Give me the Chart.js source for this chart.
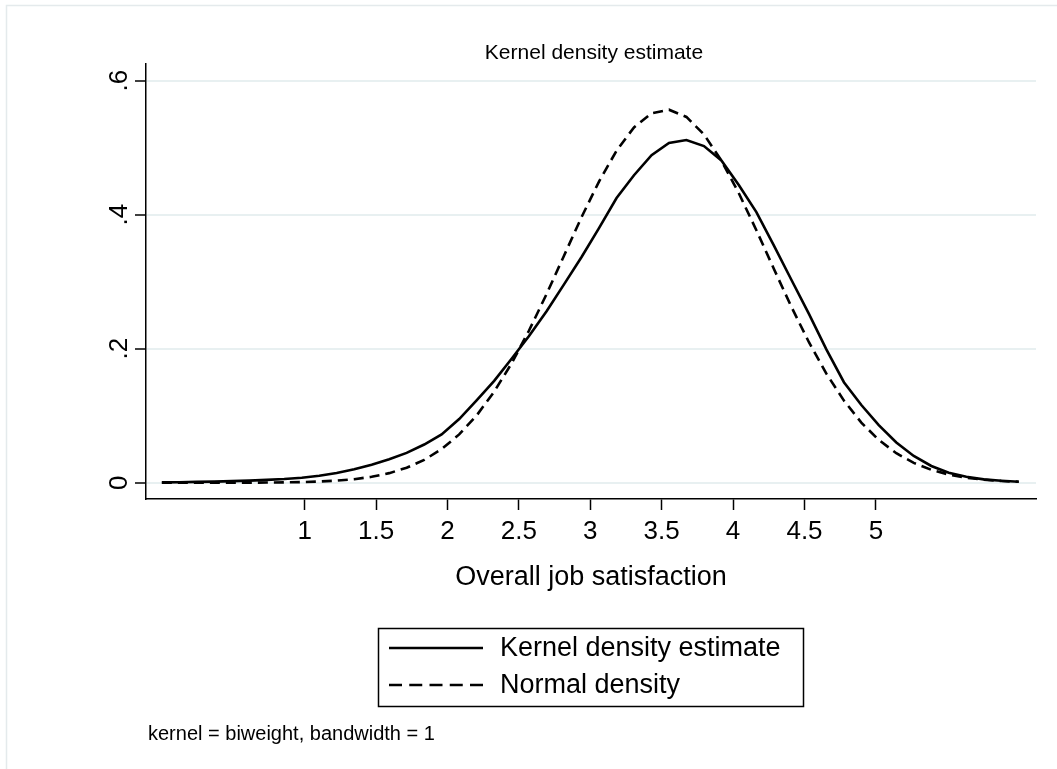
<!DOCTYPE html>
<html>
<head>
<meta charset="utf-8">
<title>Kernel density estimate</title>
<script src="https://cdn.jsdelivr.net/npm/chart.js@4.4.1/dist/chart.umd.min.js"></script>
<style>
    html, body { margin: 0; padding: 0; background: #ffffff; }
    #graficoContainer { width: 1057px; height: 769px; }
</style>
</head>
<body>
<div id="graficoContainer"><canvas id="graficoDensidade" width="1057" height="769"></canvas></div>
<script>
// Pontos de avaliação (eixo x) e valores
const satisfacao = [0.000, 0.122, 0.245, 0.367, 0.490, 0.612, 0.735, 0.857, 0.980, 1.102,
    1.224, 1.347, 1.469, 1.592, 1.714, 1.837, 1.959, 2.082, 2.204, 2.327,
    2.449, 2.571, 2.694, 2.816, 2.939, 3.061, 3.184, 3.306, 3.429, 3.551,
    3.673, 3.796, 3.918, 4.041, 4.163, 4.286, 4.408, 4.531, 4.653, 4.776,
    4.898, 5.020, 5.143, 5.265, 5.388, 5.510, 5.633, 5.755, 5.878, 6.000];

const densidadeKernel = [0.0005, 0.0008, 0.0012, 0.0017, 0.0024, 0.0032, 0.0042, 0.0055, 0.0075, 0.0105,
    0.0145, 0.0200, 0.0270, 0.0350, 0.0445, 0.0570, 0.0720, 0.0950, 0.1230, 0.1520,
    0.1850, 0.2190, 0.2560, 0.2960, 0.3370, 0.3800, 0.4250, 0.4590, 0.4890, 0.5070,
    0.5115, 0.5025, 0.4810, 0.4440, 0.4040, 0.3540, 0.3030, 0.2520, 0.1990, 0.1500,
    0.1160, 0.0860, 0.0600, 0.0400, 0.0250, 0.0150, 0.0090, 0.0050, 0.0030, 0.0015];

const densidadeNormal = [0.0000, 0.0000, 0.0000, 0.0000, 0.0001, 0.0001, 0.0003, 0.0005, 0.0010, 0.0018,
    0.0031, 0.0053, 0.0088, 0.0143, 0.0223, 0.0340, 0.0502, 0.0721, 0.1003, 0.1359,
    0.1781, 0.2272, 0.2816, 0.3389, 0.3965, 0.4495, 0.4957, 0.5304, 0.5515, 0.5568,
    0.5460, 0.5199, 0.4809, 0.4317, 0.3769, 0.3190, 0.2627, 0.2097, 0.1629, 0.1226,
    0.0897, 0.0639, 0.0440, 0.0296, 0.0192, 0.0122, 0.0075, 0.0044, 0.0026, 0.0015];

const xTicks = [1, 1.5, 2, 2.5, 3, 3.5, 4, 4.5, 5];
const yTicks = [0, 0.2, 0.4, 0.6];
const yTickLabels = ['0', '.2', '.4', '.6'];
const nomesSeries = ['Kernel density estimate', 'Normal density'];

const fonte = "'Liberation Sans', Arial, Helvetica, sans-serif";

// Junta x e y no formato que o Chart.js espera
function montarPontos(valores) {
    return satisfacao.map((x, i) => ({ x: x, y: valores[i] }));
}

// Plugin para fundo, títulos, rótulos do eixo y, legenda e nota
const decoracao = {
    id: 'decoracao',
    beforeDraw(chart) {
        const ctx = chart.ctx;
        ctx.save();
        ctx.fillStyle = '#ffffff';
        ctx.fillRect(0, 0, chart.width, chart.height);
        ctx.strokeStyle = '#e4eaec';
        ctx.lineWidth = 1.5;
        ctx.strokeRect(6.5, 5.5, chart.width + 40, chart.height + 40);
        ctx.restore();
    },
    afterDraw(chart) {
        const ctx = chart.ctx;
        const area = chart.chartArea;
        const escalaY = chart.scales.y;
        const centro = (area.left + area.right) / 2;

        ctx.save();
        ctx.fillStyle = '#000';

        // Título
        ctx.font = '21px ' + fonte;
        ctx.textAlign = 'center';
        ctx.textBaseline = 'alphabetic';
        ctx.fillText('Kernel density estimate', centro + 3, 59);

        // Rótulos do eixo y (girados)
        ctx.font = '26px ' + fonte;
        yTicks.forEach((v, i) => {
            const py = escalaY.getPixelForValue(v);
            ctx.save();
            ctx.translate(escalaY.right - 19, py);
            ctx.rotate(-Math.PI / 2);
            ctx.textAlign = 'center';
            ctx.fillText(yTickLabels[i], 0, 0);
            ctx.restore();
        });

        // Título do eixo x
        ctx.font = '27px ' + fonte;
        ctx.textAlign = 'center';
        ctx.fillText('Overall job satisfaction', centro, 585);

        // Legenda com moldura
        ctx.strokeStyle = '#000';
        ctx.lineWidth = 1.5;
        ctx.strokeRect(378.5, 628.5, 425, 78);
        const linhasY = [648, 685];
        const tracos = [[], [13, 7.25]];
        ctx.textAlign = 'left';
        ctx.textBaseline = 'middle';
        nomesSeries.forEach((nome, i) => {
            ctx.beginPath();
            ctx.lineWidth = 2.6;
            ctx.setLineDash(tracos[i]);
            ctx.moveTo(389, linhasY[i]);
            ctx.lineTo(483, linhasY[i]);
            ctx.stroke();
            ctx.setLineDash([]);
            ctx.fillText(nome, 500, linhasY[i] + 1);
        });

        // Nota
        ctx.font = '20px ' + fonte;
        ctx.textBaseline = 'alphabetic';
        ctx.fillText('kernel = biweight, bandwidth = 1', 148, 740);
        ctx.restore();
    }
};

function criarGrafico() {
    const ctx = document.getElementById('graficoDensidade').getContext('2d');
    new Chart(ctx, {
        type: 'line',
        data: {
            datasets: [{
                label: nomesSeries[0],
                data: montarPontos(densidadeKernel),
                borderColor: '#000',
                borderWidth: 2.6,
                pointRadius: 0,
                tension: 0,
                fill: false
            }, {
                label: nomesSeries[1],
                data: montarPontos(densidadeNormal),
                borderColor: '#000',
                borderWidth: 2.6,
                borderDash: [10, 6],
                pointRadius: 0,
                tension: 0,
                fill: false
            }]
        },
        options: {
            responsive: false,
            animation: false,
            layout: { padding: { left: 0, right: 21, top: 64, bottom: 0 } },
            plugins: {
                legend: { display: false },
                tooltip: { enabled: false },
                title: { display: false }
            },
            scales: {
                x: {
                    type: 'linear',
                    min: -0.111,
                    max: 6.121,
                    afterBuildTicks: (escala) => { escala.ticks = xTicks.map(v => ({ value: v })); },
                    afterFit: (escala) => { escala.height = 270; },
                    grid: { drawOnChartArea: false, drawTicks: true, tickLength: 11, tickColor: '#000', tickWidth: 1.5 },
                    border: { display: true, color: '#000', width: 1.5 },
                    ticks: {
                        color: '#000',
                        font: { family: fonte, size: 26 },
                        padding: 6,
                        maxRotation: 0,
                        autoSkip: false,
                        callback: (v) => String(v)
                    }
                },
                y: {
                    type: 'linear',
                    min: -0.0243,
                    max: 0.625,
                    afterBuildTicks: (escala) => { escala.ticks = yTicks.map(v => ({ value: v })); },
                    afterFit: (escala) => { escala.width = 146; },
                    grid: { color: '#e8f0f1', lineWidth: 2, drawTicks: true, tickLength: 11, tickColor: '#000', tickWidth: 1.5 },
                    border: { display: true, color: '#000', width: 1.5 },
                    ticks: { display: false }
                }
            }
        },
        plugins: [decoracao]
    });
}

window.onload = function() {
    criarGrafico();
};
</script>
</body>
</html>
